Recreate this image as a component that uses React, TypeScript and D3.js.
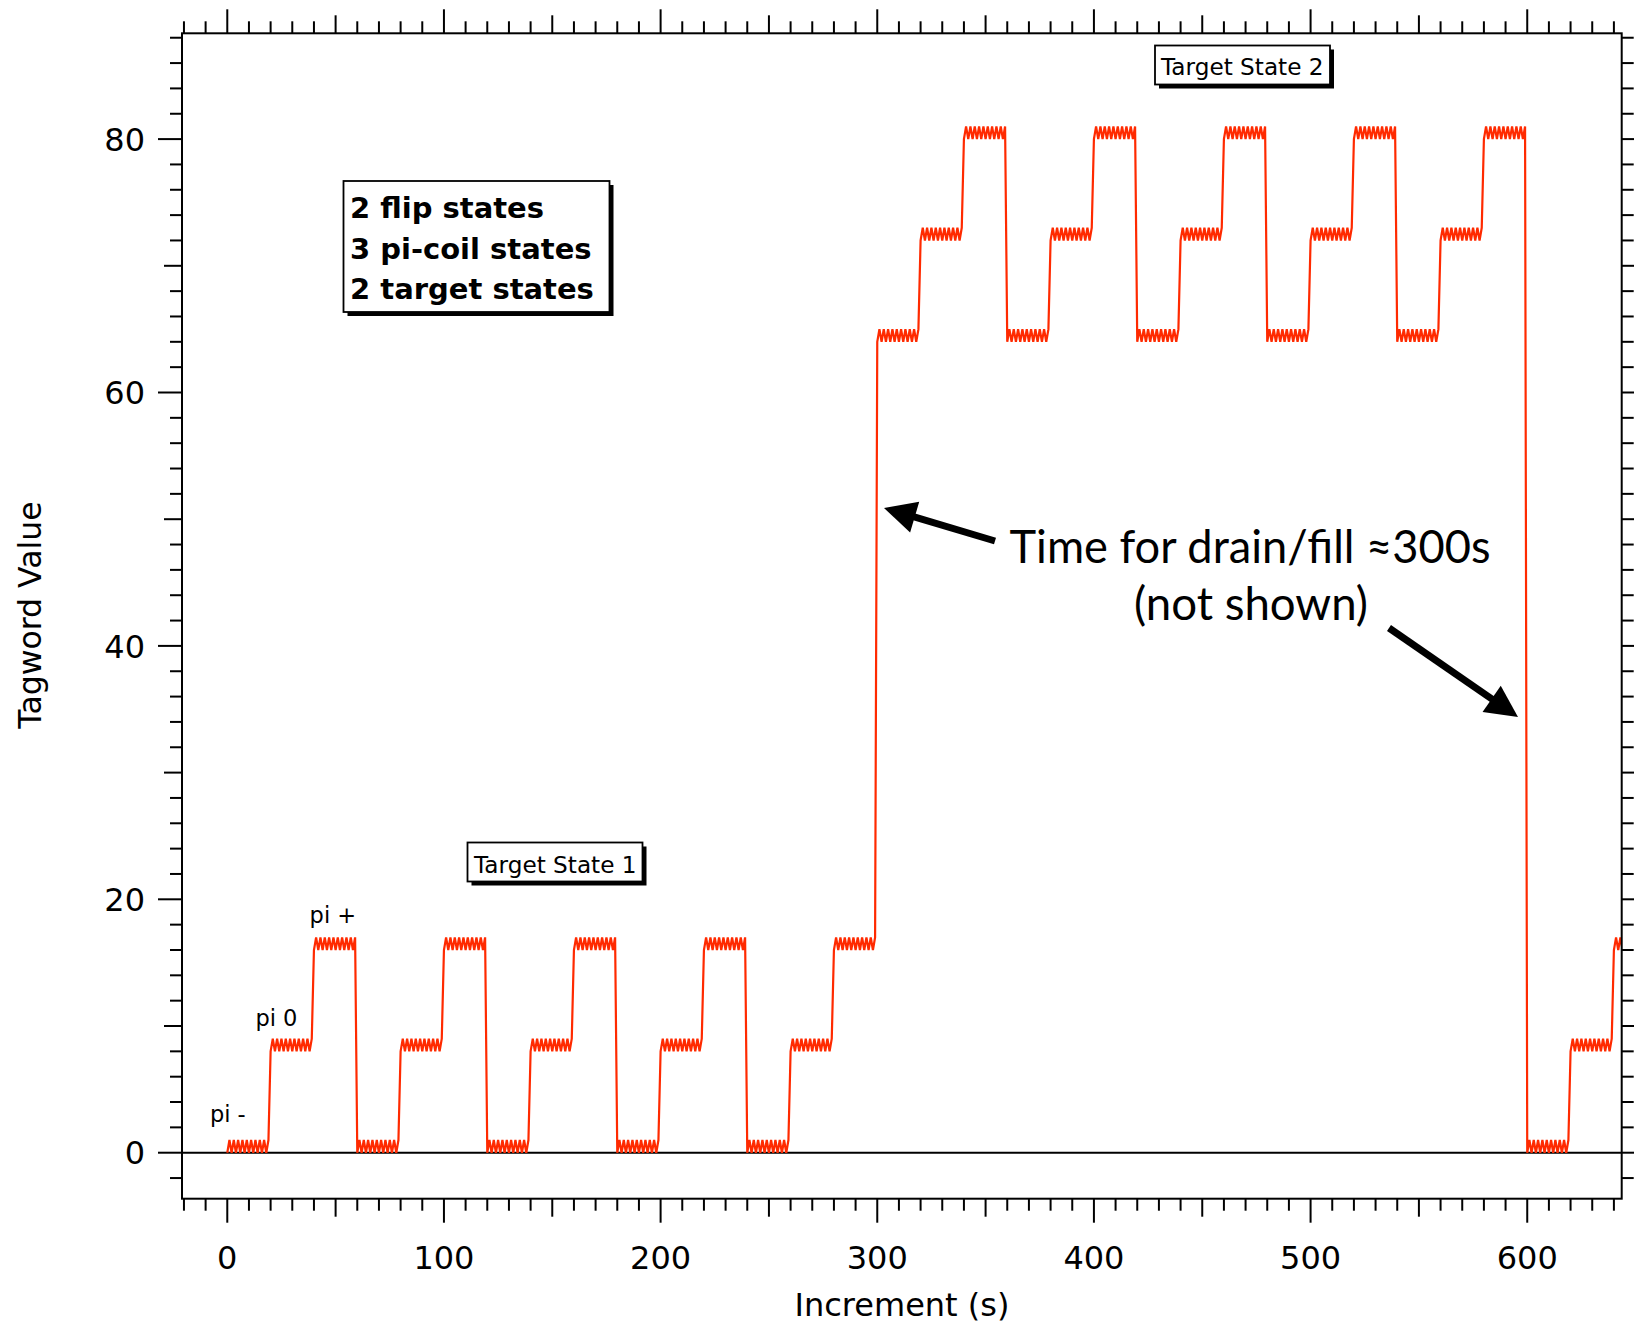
import React from "react";
import * as d3 from "d3";

// Tagword level of each 20 s block (pi-coil state + target state offset)
const blockLevels = [
  0, 8, 16, 0, 8, 16, 0, 8, 16, 0, 8, 16, 0, 8, 16,
  64, 72, 80, 64, 72, 80, 64, 72, 80, 64, 72, 80, 64, 72, 80,
  0, 8, 16,
];
// Flip state bit, toggling every second
const flipBits = [0, 1];
const blockSeconds = 20;
const lastSecond = 645;

const xTickValues = [0, 100, 200, 300, 400, 500, 600];
const yTickValues = [0, 20, 40, 60, 80];

const piLabels = [
  { text: "pi -", t: -8, v: 2.45 },
  { text: "pi 0", t: 13, v: 10.0 },
  { text: "pi +", t: 38, v: 18.1 },
];

const infoLines = ["2 flip states", "3 pi-coil states", "2 target states"];

type Pt = { t: number; v: number };
const series: Pt[] = [];
for (let t = 0; t <= lastSecond; t++) {
  const block = Math.min(Math.floor(t / blockSeconds), blockLevels.length - 1);
  series.push({ t, v: blockLevels[block] + flipBits[t % 2] });
}

const W = 1634;
const H = 1324;
const left = 182;
const right = 1621.7;
const top = 33.3;
const bottom = 1198.7;

const x = d3.scaleLinear().domain([-20.9, 643.6]).range([left, right]);
const y = d3.scaleLinear().domain([-3.63, 88.35]).range([bottom, top]);

function Arrow({ x1, y1, x2, y2 }: { x1: number; y1: number; x2: number; y2: number }) {
  const dx = x2 - x1;
  const dy = y2 - y1;
  const len = Math.hypot(dx, dy);
  const ux = dx / len;
  const uy = dy / len;
  const headLen = 32;
  const headHalf = 16;
  const bx = x2 - ux * headLen;
  const by = y2 - uy * headLen;
  const px = -uy;
  const py = ux;
  const pts = [
    [x2, y2],
    [bx + px * headHalf, by + py * headHalf],
    [bx - px * headHalf, by - py * headHalf],
  ]
    .map((p) => p.join(","))
    .join(" ");
  return (
    <g>
      <line x1={x1} y1={y1} x2={bx + ux * 4} y2={by + uy * 4} stroke="#000" strokeWidth={7} />
      <polygon points={pts} fill="#000" />
    </g>
  );
}

function LabelBox({ bx, by, bw, bh, children }: { bx: number; by: number; bw: number; bh: number; children: React.ReactNode }) {
  return (
    <g>
      <rect x={bx + 4} y={by + 4} width={bw} height={bh} fill="#000" />
      <rect x={bx} y={by} width={bw} height={bh} fill="#fff" stroke="#000" strokeWidth={1.8} />
      {children}
    </g>
  );
}

export default function App() {
  const line = d3
    .line<Pt>()
    .x((d) => x(d.t))
    .y((d) => y(d.v));

  const xMinor = d3.range(-20, 641, 10);
  const yMinor = d3.range(-2, 89, 2);
  const xLen = (v: number) => (v % 100 === 0 ? 24 : v % 50 === 0 ? 18 : 12);
  const yLen = (v: number) => (v % 20 === 0 ? 24 : v % 10 === 0 ? 18 : 12);

  const font = "'DejaVu Sans', sans-serif";

  return (
    <svg width={W} height={H} style={{ position: "absolute", left: 0, top: 0 }} xmlns="http://www.w3.org/2000/svg">
      <rect x={0} y={0} width={W} height={H} fill="#fff" />
      <defs>
        <clipPath id="plotClip">
          <rect x={left} y={top} width={right - left} height={bottom - top} />
        </clipPath>
      </defs>

      {/* zero line */}
      <line x1={left} x2={right} y1={y(0)} y2={y(0)} stroke="#000" strokeWidth={2} />

      {/* tagword trace */}
      <path d={line(series) || ""} fill="none" stroke="#ff2a00" strokeWidth={2.2} clipPath="url(#plotClip)" strokeLinejoin="miter" />

      {/* frame */}
      <rect x={left} y={top} width={right - left} height={bottom - top} fill="none" stroke="#000" strokeWidth={2} />

      {/* x ticks, bottom and top */}
      {xMinor.map((v) => (
        <g key={"xt" + v}>
          <line x1={x(v)} x2={x(v)} y1={bottom} y2={bottom + xLen(v)} stroke="#000" strokeWidth={2} />
          <line x1={x(v)} x2={x(v)} y1={top} y2={top - xLen(v)} stroke="#000" strokeWidth={2} />
        </g>
      ))}
      {/* y ticks, left and right */}
      {yMinor.map((v) => (
        <g key={"yt" + v}>
          <line x1={left} x2={left - yLen(v)} y1={y(v)} y2={y(v)} stroke="#000" strokeWidth={2} />
          <line x1={right} x2={right + yLen(v)} y1={y(v)} y2={y(v)} stroke="#000" strokeWidth={2} />
        </g>
      ))}

      {xTickValues.map((v) => (
        <text key={"xl" + v} x={x(v)} y={1269} textAnchor="middle" fontFamily={font} fontSize={32} fill="#000">
          {v}
        </text>
      ))}
      {yTickValues.map((v) => (
        <text key={"yl" + v} x={145} y={y(v) + 11.7} textAnchor="end" fontFamily={font} fontSize={32} fill="#000">
          {v}
        </text>
      ))}

      <text x={902} y={1316} textAnchor="middle" fontFamily={font} fontSize={32} fill="#000">
        Increment (s)
      </text>
      <text transform="translate(41,615) rotate(-90)" textAnchor="middle" fontFamily={font} fontSize={31.5} fill="#000">
        Tagword Value
      </text>

      {piLabels.map((p) => (
        <text key={p.text} x={x(p.t)} y={y(p.v)} fontFamily={font} fontSize={22.5} fill="#000">
          {p.text}
        </text>
      ))}

      <LabelBox bx={343.5} by={181} bw={266} bh={131}>
        {infoLines.map((s, i) => (
          <text key={s} x={350} y={218 + i * 40.5} fontFamily={font} fontWeight="bold" fontSize={29} fill="#000">
            {s}
          </text>
        ))}
      </LabelBox>

      <LabelBox bx={467.5} by={842.5} bw={175} bh={39}>
        <text x={474} y={872.5} fontFamily={font} fontSize={23.2} fill="#000">
          Target State 1
        </text>
      </LabelBox>

      <LabelBox bx={1155} by={45.5} bw={175} bh={39}>
        <text x={1161} y={74.5} fontFamily={font} fontSize={23.2} fill="#000">
          Target State 2
        </text>
      </LabelBox>

      <text x={1250} y={563} textAnchor="middle" fontFamily="Lato, sans-serif" fontSize={46} textLength={481} lengthAdjust="spacingAndGlyphs" fill="#000">
        Time for drain/fill ≈300s
      </text>
      <text x={1251} y={620} textAnchor="middle" fontFamily="Lato, sans-serif" fontSize={46} textLength={234} lengthAdjust="spacingAndGlyphs" fill="#000">
        (not shown)
      </text>

      <Arrow x1={995} y1={541} x2={884} y2={508} />
      <Arrow x1={1389} y1={628} x2={1518} y2={717} />
    </svg>
  );
}
